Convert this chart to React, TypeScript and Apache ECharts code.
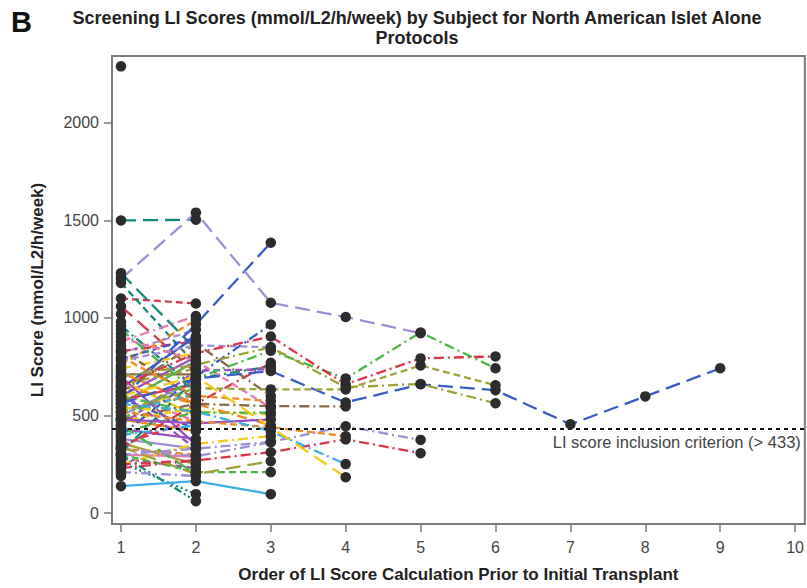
import React, { useEffect, useRef } from "react";
import * as echarts from "echarts";

// ---------- data ----------
const xTicks = [1, 2, 3, 4, 5, 6, 7, 8, 9, 10];
const yTicks = [0, 500, 1000, 1500, 2000];
const criterion = 433;

// subjects with 4 or more screening scores (index 0 -> order 1)
const extendedSubjects: number[][] = [
  [1200, 1540, 1078, 1005, 922],
  [560, 690, 728, 567, 660, 630, 455, 598, 742],
  [480, 690, 832, 690, 926, 742],
  [650, 820, 905, 660, 793, 803],
  [520, 640, 634, 634, 757, 655],
  [700, 760, 850, 645, 662, 563],
  [480, 560, 548, 547],
  [300, 330, 365, 445, 375],
  [520, 470, 440, 394],
  [250, 270, 312, 378, 307],
  [560, 520, 420, 251],
  [600, 700, 440, 184],
];
const extendedStyles = [
  "lavender:longdash", "blue:longdash", "green:dashdot", "red:dashdot",
  "olive:dash", "olive:dashdot", "brown:dashdot", "lavender:dashdot",
  "orange:dash", "red:dashdot", "cyan:dashdot", "yellow:longdash",
];

// subjects with 3 screening scores
const threeVisitSubjects: number[][] = [
  [580, 967, 1386],
  [400, 700, 967],
  [138, 164, 97],
  [330, 560, 770],
  [310, 690, 752],
  [450, 730, 737],
  [800, 600, 575],
  [540, 520, 506],
  [600, 515, 515],
  [250, 355, 395],
  [330, 291, 363],
  [300, 210, 210],
  [340, 200, 266],
  [650, 560, 450],
  [480, 460, 480],
  [620, 870, 600],
  [780, 860, 850],
  [900, 780, 540],
];
const threeVisitStyles = [
  "blue:longdash", "blue:dashdot", "cyan:solid", "red:dashdot",
  "teal:dashdot", "violet:dash", "orange:dash", "yellow:dashdot",
  "green:dashdot", "yellow:dashdot", "lavender:dashdot", "green:dash",
  "olive:longdash", "orange:dashdot", "violet:solid", "brown:dashdot",
  "lavender:dash", "pink:dash",
];

// subjects with 2 screening scores
const twoVisitSubjects: number[][] = [
  [1500, 1504], [1100, 1074], [1180, 760], [1230, 840], [1060, 720],
  [760, 990], [820, 940], [960, 640], [830, 880], [711, 711],
  [640, 905], [720, 560], [600, 800], [560, 780], [680, 500],
  [500, 680], [620, 470], [540, 600], [590, 430], [470, 540],
  [430, 380], [410, 520], [380, 330], [360, 250], [350, 480],
  [330, 300], [300, 290], [280, 230], [260, 97], [300, 61],
  [450, 200], [520, 610], [580, 660], [660, 740], [740, 820],
  [790, 900], [840, 580], [480, 420], [400, 450], [230, 270],
  [210, 190], [880, 1010], [940, 620], [700, 350], [620, 330],
];
const twoVisitStyles = [
  "teal:longdash", "red:dash", "teal:dash", "teal:longdash", "red:longdash",
  "orange:dash", "lavender:dash", "teal:dashdot", "red:dashdot", "brown:solid",
  "blue:solid", "orange:solid", "violet:solid", "green:solid", "yellow:solid",
  "lavender:solid", "pink:dash", "orange:dash", "blue:dash", "yellow:dash",
  "violet:solid", "green:dashdot", "lavender:solid", "olive:solid", "red:dash",
  "orange:dash", "pink:solid", "violet:dash", "teal:dot", "teal:dashdotdot",
  "green:longdash", "cyan:dash", "red:solid", "olive:dash", "yellow:dashdot",
  "blue:dash", "brown:dash", "orange:solid", "cyan:dashdot", "red:dashdot",
  "lavender:dashdot", "pink:dashdot", "green:dashdot", "violet:solid", "violet:dash",
];

// subjects with a single screening score
const singleVisitScores = [
  2290, 1210, 1020, 980, 920, 860, 750, 730, 690, 670, 630, 610, 570, 545,
  510, 490, 460, 440, 420, 390, 370, 340, 320, 290, 270, 240, 220, 200, 190,
];

// ---------- styles ----------
const palette: Record<string, string> = {
  blue: "#3a5cc6",
  red: "#d8374c",
  teal: "#15887a",
  green: "#4cb547",
  lavender: "#a08fd4",
  olive: "#9da23a",
  orange: "#ee8a22",
  yellow: "#f2cb18",
  cyan: "#3eaee0",
  brown: "#8a6a4a",
  pink: "#e07cb1",
  violet: "#9650c2",
};
const dashes: Record<string, any> = {
  solid: "solid",
  dash: [7, 4],
  longdash: [15, 7],
  dashdot: [10, 4, 2, 4],
  dot: [2, 3],
  dashdotdot: [8, 3, 2, 3, 2, 3],
};

const FONT = "'Liberation Sans', Arial, Helvetica, sans-serif";

export default function App() {
  const ref = useRef<HTMLDivElement>(null);

  useEffect(() => {
    if (!ref.current) return;
    const chart = echarts.init(ref.current, undefined, { renderer: "svg" });

    const groups: [number[][], string[]][] = [
      [twoVisitSubjects, twoVisitStyles],
      [threeVisitSubjects, threeVisitStyles],
      [extendedSubjects, extendedStyles],
    ];

    const series: any[] = [];
    const allPoints: number[][] = [];
    groups.forEach(([subjects, styles]) => {
      subjects.forEach((vals, si) => {
        const [c, d] = styles[si].split(":");
        const data = vals.map((v, i) => [i + 1, v]);
        data.forEach((p) => allPoints.push(p));
        series.push({
          type: "line",
          data,
          showSymbol: false,
          silent: true,
          lineStyle: { color: palette[c], width: 2.3, type: dashes[d] },
          z: 2,
        });
      });
    });
    singleVisitScores.forEach((v) => allPoints.push([1, v]));

    series.push({
      type: "scatter",
      data: allPoints,
      symbol: "circle",
      symbolSize: 10.5,
      itemStyle: { color: "#2c2c2c", opacity: 1 },
      z: 5,
      silent: true,
    });

    series.push({
      type: "line",
      data: [],
      z: 4,
      markLine: {
        silent: true,
        symbol: "none",
        lineStyle: { color: "#111", width: 2.2, type: [4, 4] },
        label: {
          show: true,
          position: "insideEndBottom",
          formatter: "LI score inclusion criterion (> 433)",
          color: "#444",
          fontSize: 16.5,
          fontFamily: FONT,
          distance: [4, 5],
        },
        data: [{ yAxis: criterion }],
      },
    });

    chart.setOption({
      animation: false,
      backgroundColor: "#ffffff",
      grid: {
        left: 112,
        right: 1,
        top: 56,
        bottom: 58,
        show: true,
        borderColor: "#7a7a7a",
        borderWidth: 2,
      },
      xAxis: {
        type: "value",
        min: 0.88,
        max: 10.13,
        name: "Order of LI Score Calculation Prior to Initial Transplant",
        nameLocation: "middle",
        nameGap: 42,
        nameTextStyle: { fontFamily: FONT, fontWeight: "bold", fontSize: 17, color: "#222" },
        axisLine: { show: true, onZero: false, lineStyle: { color: "#7a7a7a", width: 2 } },
        axisTick: { show: true, length: 8, customValues: xTicks, lineStyle: { color: "#7a7a7a", width: 1.5 } },
        axisLabel: {
          customValues: xTicks,
          formatter: (v: number) => String(v),
          fontFamily: FONT,
          fontSize: 16,
          color: "#444",
          margin: 15,
        },
        splitLine: { show: false },
      },
      yAxis: {
        type: "value",
        min: -56,
        max: 2343,
        name: "LI Score (mmol/L2/h/week)",
        nameLocation: "middle",
        nameGap: 66,
        nameTextStyle: { fontFamily: FONT, fontWeight: "bold", fontSize: 17, color: "#222" },
        axisLine: { show: true, onZero: false, lineStyle: { color: "#7a7a7a", width: 2 } },
        axisTick: { show: true, length: 8, customValues: yTicks, lineStyle: { color: "#7a7a7a", width: 1.5 } },
        axisLabel: {
          customValues: yTicks,
          formatter: (v: number) => String(v),
          fontFamily: FONT,
          fontSize: 16,
          color: "#444",
          margin: 13,
        },
        splitLine: { show: false },
      },
      graphic: [
        {
          type: "text",
          x: 11,
          y: 22,
          style: {
            text: "B",
            font: `bold 29px ${FONT}`,
            fill: "#111",
            verticalAlign: "middle",
          },
        },
        {
          type: "text",
          x: 417,
          y: 8,
          style: {
            text: "Screening LI Scores (mmol/L2/h/week) by Subject for North American Islet Alone\nProtocols",
            font: `bold 18px ${FONT}`,
            fill: "#222",
            align: "center",
            lineHeight: 20,
          },
        },
      ],
      series,
    });

    return () => chart.dispose();
  }, []);

  return (
    <div
      ref={ref}
      style={{ position: "absolute", left: 0, top: 0, width: 807, height: 588 }}
    />
  );
}
